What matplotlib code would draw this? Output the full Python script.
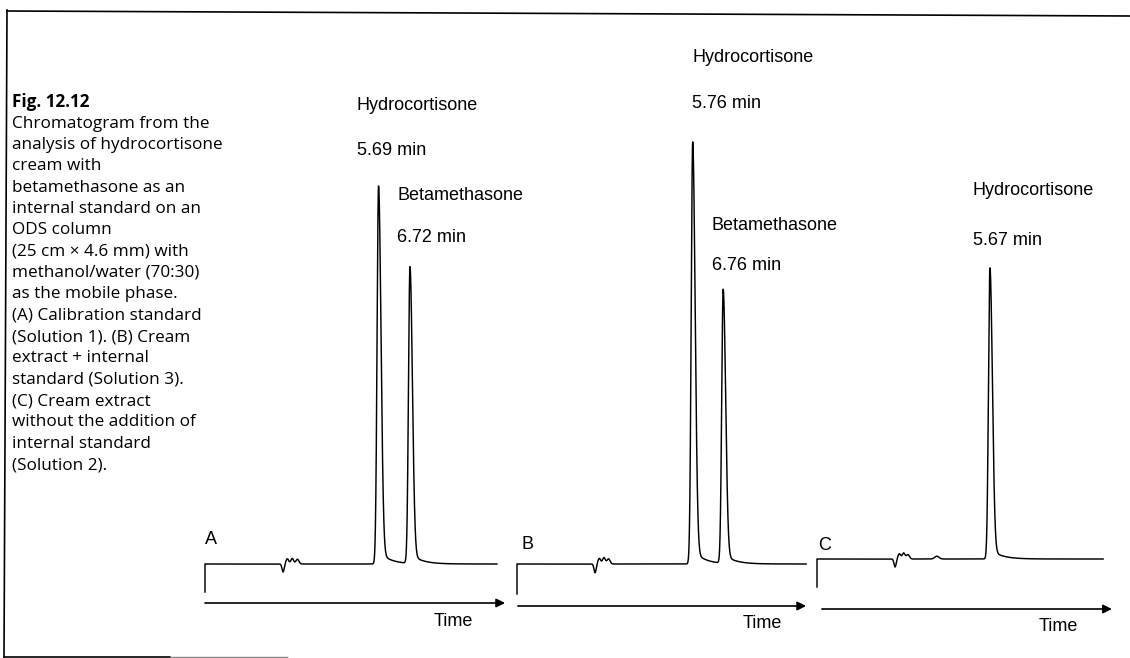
import numpy as np
import matplotlib
matplotlib.use("Agg")
import matplotlib.pyplot as plt

# chromatogram peaks: retention time (min), height (detector units)
panels = ["A", "B", "C"]
peak_names = [["Hydrocortisone", "Betamethasone"],
              ["Hydrocortisone", "Betamethasone"],
              ["Hydrocortisone"]]
peak_rt = [[5.69, 6.72], [5.76, 6.76], [5.67]]
peak_height = [[94.5, 74.2], [105.5, 68.5], [72.8]]

# small disturbances near the solvent front: (time, height, width)
front_noise = [
    [(2.56, -2.0, 0.035), (2.70, 1.3, 0.045), (2.86, 1.4, 0.045), (3.03, 1.2, 0.05)],
    [(2.56, -2.2, 0.035), (2.70, 1.4, 0.045), (2.85, 1.6, 0.045), (3.00, 1.3, 0.05)],
    [(2.56, -2.0, 0.035), (2.70, 1.3, 0.045), (2.84, 1.5, 0.045), (2.98, 1.1, 0.05),
     (3.93, 0.7, 0.07)],
]
pen_start = [-7.0, -7.5, -7.0]     # level of the pen before the run starts
run_end = [9.57, 9.48, 9.38]       # last time point of each trace (min)

# label positions (data coords of each panel)
name_pos = [[(4.98, 114.5), (6.30, 92.2)], [(5.74, 126.7), (6.39, 84.5)], [(5.11, 92.2)]]
time_pos = [[(4.98, 103.3), (6.30, 81.7)], [(5.74, 115.0), (6.39, 74.5)], [(5.11, 79.7)]]
arrow_y = [-9.75, -10.5, -12.5]
arrow_x = [(0.0, 9.84), (0.03, 9.48), (0.16, 9.67)]
time_lbl = [(8.13, -14.3), (8.03, -14.8), (7.90, -16.8)]
letter_pos = [(0.0, 6.0), (0.16, 4.8), (0.05, 3.5)]

# panel origins in pixels (t = 0, baseline), scale
origin_px = [(205, 564), (517, 564), (817, 559)]
px_per_min = 30.5
px_per_unit = 4.0

W, H = 1130, 658
fig = plt.figure(figsize=(W / 100, H / 100), dpi=100)

# frame and caption drawn in pixel space
bg = fig.add_axes([0, 0, 1, 1])
bg.set_xlim(0, W)
bg.set_ylim(H, 0)
bg.axis("off")
bg.plot([7, 1130], [11, 16], color="black", lw=1.2)
bg.plot([7, 4], [10, 657], color="black", lw=1.2)
bg.plot([4, 170], [657, 657], color="black", lw=1.2)
bg.plot([170, 287], [657, 657], color="#888888", lw=1.0)

cap_font = "Open Sans"
cap_size = 12.3
bg.text(12, 102, "Fig. 12.12", fontsize=cap_size, fontweight="bold", family=cap_font,
        va="center", ha="left")
caption = ["Chromatogram from the",
           "analysis of hydrocortisone",
           "cream with",
           "betamethasone as an",
           "internal standard on an",
           "ODS column",
           "(25 cm \u00d7 4.6 mm) with",
           "methanol/water (70:30)",
           "as the mobile phase.",
           "(A) Calibration standard",
           "(Solution 1). (B) Cream",
           "extract + internal",
           "standard (Solution 3).",
           "(C) Cream extract",
           "without the addition of",
           "internal standard",
           "(Solution 2)."]
for i, line in enumerate(caption):
    bg.text(12, 123.5 + i * 21.35, line, fontsize=cap_size, family=cap_font,
            va="center", ha="left")


def trace(t, rts, hts, noise):
    y = np.zeros_like(t)
    for rt, h in zip(rts, hts):
        sl, sr = 0.048, 0.08
        s = np.where(t < rt, sl, sr)
        g = np.exp(-0.5 * ((t - rt) / s) ** 2)
        tail = np.where(t > rt, 0.035 * np.exp(-(t - rt) / 0.35), 0.0) * (1 - g)
        y += h * (g + tail)
    for tn, hn, wn in noise:
        y += hn * np.exp(-0.5 * ((t - tn) / wn) ** 2)
    return y


ymin, ymax = -25, 135
tmin, tmax = -0.5, 10.5
lab_font = "Liberation Sans"
for k in range(3):
    x0, y0 = origin_px[k]
    left = x0 + tmin * px_per_min
    width = (tmax - tmin) * px_per_min
    top = y0 - ymax * px_per_unit
    height = (ymax - ymin) * px_per_unit
    ax = fig.add_axes([left / W, (H - top - height) / H, width / W, height / H])
    ax.set_xlim(tmin, tmax)
    ax.set_ylim(ymin, ymax)
    ax.axis("off")
    ax.patch.set_alpha(0)

    t = np.linspace(0, run_end[k], 6000)
    y = trace(t, peak_rt[k], peak_height[k], front_noise[k])
    ax.plot(np.r_[0, t], np.r_[pen_start[k], y], color="black", lw=1.05,
            clip_on=False)

    ax.annotate("", xy=(arrow_x[k][1], arrow_y[k]), xytext=(arrow_x[k][0], arrow_y[k]),
                arrowprops=dict(arrowstyle="-|>", color="black", lw=1.2,
                                mutation_scale=13, shrinkA=0, shrinkB=0))
    ax.text(*time_lbl[k], "Time", fontsize=13, family=lab_font, ha="center", va="center")
    ax.text(*letter_pos[k], panels[k], fontsize=13, family=lab_font, ha="left", va="center")

    for j, name in enumerate(peak_names[k]):
        ax.text(*name_pos[k][j], name, fontsize=13, family=lab_font,
                ha="left", va="center", clip_on=False)
        ax.text(*time_pos[k][j], f"{peak_rt[k][j]:.2f} min", fontsize=13,
                family=lab_font, ha="left", va="center", clip_on=False)

fig.savefig("out.png", dpi=100)
